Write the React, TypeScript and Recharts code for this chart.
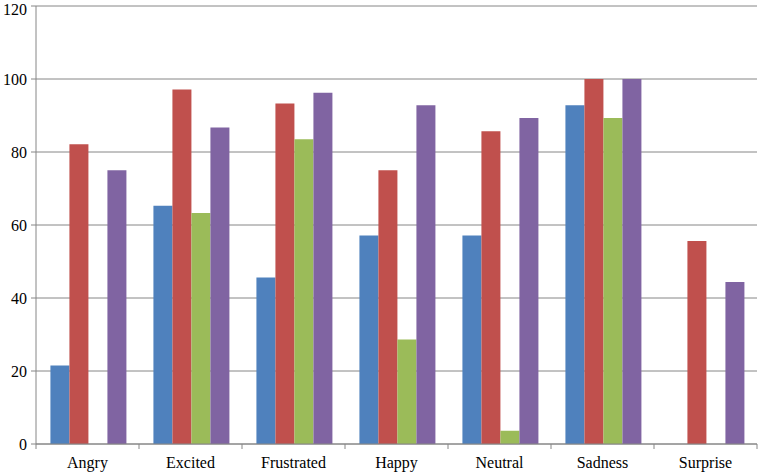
import { BarChart, Bar, XAxis, YAxis, CartesianGrid } from "recharts";

const categories = ["Angry", "Excited", "Frustrated", "Happy", "Neutral", "Sadness", "Surprise"];
const seriesA = [21.5, 65.3, 45.6, 57.1, 57.1, 92.8, 0];
const seriesB = [82.1, 97.1, 93.3, 75, 85.7, 100, 55.6];
const seriesC = [0, 63.3, 83.5, 28.6, 3.6, 89.3, 0];
const seriesD = [75, 86.7, 96.2, 92.8, 89.3, 100, 44.4];
const yTicks = [0, 20, 40, 60, 80, 100, 120];

const data = categories.map((name, i) => ({
  name,
  a: seriesA[i],
  b: seriesB[i],
  c: seriesC[i],
  d: seriesD[i],
}));

const FONT = "'Liberation Serif', 'Times New Roman', serif";
const LEFT = 36;
const RIGHT = 757;
const BAND = (RIGHT - LEFT) / categories.length;

function CategoryTick(props: any) {
  const { x, y, payload, index } = props;
  return (
    <g>
      <line x1={x - BAND / 2} y1={y - 8} x2={x - BAND / 2} y2={y - 3} stroke="#868686" />
      {index === categories.length - 1 && (
        <line x1={x + BAND / 2} y1={y - 8} x2={x + BAND / 2} y2={y - 3} stroke="#868686" />
      )}
      <text x={x} y={y + 16} textAnchor="middle" fontFamily={FONT} fontSize={16} fill="#000">
        {payload.value}
      </text>
    </g>
  );
}

function ValueTick(props: any) {
  const { x, y, payload } = props;
  return (
    <text x={x - 2} y={y + 6} textAnchor="end" fontFamily={FONT} fontSize={16} fill="#000">
      {payload.value}
    </text>
  );
}

export default function App() {
  return (
    <div style={{ position: "absolute", left: 0, top: 0, width: 758, height: 473, background: "#fff" }}>
      <BarChart
        width={758}
        height={473}
        data={data}
        margin={{ top: 6, right: 1, bottom: 0, left: 0 }}
        barGap={0}
        barCategoryGap="14%"
      >
        <CartesianGrid vertical={false} stroke="#868686" />
        <XAxis
          dataKey="name"
          height={29}
          stroke="#868686"
          tickLine={false}
          tick={<CategoryTick />}
          interval={0}
        />
        <YAxis
          width={36}
          domain={[0, 120]}
          ticks={yTicks}
          stroke="#868686"
          tickSize={5}
          tick={<ValueTick />}
        />
        <Bar dataKey="a" fill="#4F81BD" isAnimationActive={false} />
        <Bar dataKey="b" fill="#C0504D" isAnimationActive={false} />
        <Bar dataKey="c" fill="#9BBB59" isAnimationActive={false} />
        <Bar dataKey="d" fill="#8064A2" isAnimationActive={false} />
      </BarChart>
    </div>
  );
}
